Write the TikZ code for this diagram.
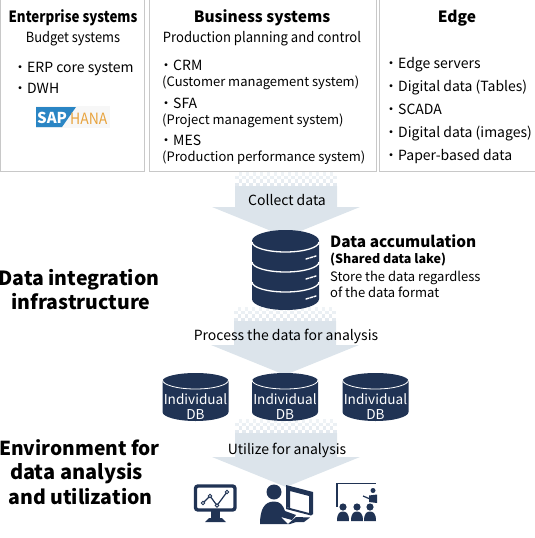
\documentclass[tikz,border=0pt]{standalone}
\usepackage{fontspec}
\usepackage{graphicx}
\setmainfont{Noto Sans CJK JP}
\definecolor{navy}{HTML}{203354}
\definecolor{arrowc}{HTML}{DCE4EB}
\definecolor{boxc}{HTML}{C8C8C8}
\definecolor{sapblue}{HTML}{2A85C4}
\definecolor{hanaor}{HTML}{E8A33D}
\tikzset{
 panel/.style={draw=boxc,line width=1pt,fill=white},
 txt/.style={inner sep=0pt,anchor=base west,font=\fontsize{14}{14}\selectfont,text=black},
 ctxt/.style={inner sep=0pt,anchor=base,font=\fontsize{14}{14}\selectfont,text=black},
 head/.style={inner sep=0pt,anchor=base,font=\fontsize{15.5}{15.5}\selectfont\bfseries,text=black},
 big/.style={inner sep=0pt,anchor=base,font=\fontsize{19.5}{19.5}\selectfont\bfseries,text=black},
 dbl/.style={inner sep=0pt,anchor=base,font=\fontsize{13.6}{13.6}\selectfont,text=white},
}
\newcommand{\flowarrow}[3]{% x-centre, top y, head y
 \pgfmathsetmacro{\tipy}{#3+30}
 \fill[arrowc] (#1-51,#2+14) -- (#1+51,#2+14) -- (#1+51,#3) -- (#1+74,#3) -- (#1,\tipy) -- (#1-74,#3) -- (#1-51,#3) -- cycle;
 \foreach \j in {0,...,3}{
  \pgfmathsetmacro{\shade}{45+\j*12}
  \fill[arrowc!\shade!white] (#1-51,#2+\j*3.5) rectangle ++(102,3.5);
  \foreach \i in {0,...,28}{
   \pgfmathtruncatemacro{\odd}{mod(\i+\j,2)}
   \ifnum\odd=0 \fill[white] (#1-51+\i*3.5,#2+\j*3.5) rectangle ++(3.5,3.5);\fi
  }
 }
}
\newcommand{\smalldb}[2]{% centre x, top y
 \fill[navy] (#1-33,#2+8) arc[start angle=180,end angle=360,x radius=33,y radius=8] -- (#1+33,#2+39) arc[start angle=0,end angle=180,x radius=33,y radius=9] -- cycle;
 \draw[white,line width=.8pt] (#1-33,#2+7) arc[start angle=180,end angle=0,x radius=33,y radius=9];
}
\begin{document}
\begin{tikzpicture}[x=1pt,y=-1pt]
\useasboundingbox (0,0) rectangle (535,538);
% panels
\draw[panel] (0.5,-2) rectangle (144.5,171);
\draw[panel] (149,-2) rectangle (376,171);
\draw[panel] (379,-2) rectangle (535,171);
\node[head] (h1) at (73,22) {\scalebox{.86}[1]{Enterprise systems}};
\node[ctxt] (s1) at (73,42) {\scalebox{.92}[1]{Budget systems}};
\node[txt] (e1) at (13,72) {・ERP core system};
\node[txt] (e2) at (13,93) {・DWH};
% SAP HANA logo
\fill[black!3] (36,106) rectangle (110,128);
\fill[sapblue] (36,107) -- (76,107) -- (62,127) -- (36,127) -- cycle;
\node[inner sep=0pt,anchor=base west,font=\fontsize{15}{15}\selectfont\bfseries,text=white] (sap) at (37,123) {SAP};
\node[inner sep=0pt,anchor=base west,font=\fontsize{15.5}{15.5}\selectfont,text=hanaor] (hana) at (70,124) {\scalebox{.9}[1]{HANA}};

\node[head] (h2) at (262,22) {Business systems};
\node[ctxt] (s2) at (262,42) {\scalebox{.934}[1]{Production planning and control}};
\node[txt] (c1) at (159,70) {・CRM};
\node[txt,font=\fontsize{13}{13}\selectfont] (c2) at (162,86) {(Customer management system)};
\node[txt] (c3) at (159,108) {・SFA};
\node[txt,font=\fontsize{13}{13}\selectfont] (c4) at (162,124) {(Project management system)};
\node[txt] (c5) at (159,145) {・MES};
\node[txt,font=\fontsize{13}{13}\selectfont] (c6) at (162,161) {(Production performance system)};

\node[head] (h3) at (457,22) {Edge};
\node[txt] (g1) at (384,68) {・Edge servers};
\node[txt] (g2) at (384,91) {・Digital data (Tables)};
\node[txt] (g3) at (384,114) {・SCADA};
\node[txt] (g4) at (384,137) {・Digital data (images)};
\node[txt] (g5) at (384,160) {・Paper-based data};

% arrows
\flowarrow{286}{172}{207}
\flowarrow{285}{307}{345}
\flowarrow{286}{419}{457}
\node[ctxt] (a1) at (287,205) {Collect data};
\node[ctxt] (a2) at (286,340) {Process the data for analysis};
\node[ctxt] (a3) at (287,454) {Utilize for analysis};

% large DB
\fill[navy] (252,241) arc[start angle=180,end angle=360,x radius=33.5,y radius=11] -- (319,299) arc[start angle=0,end angle=180,x radius=33.5,y radius=11] -- cycle;
\foreach \y in {242,262,282}{
 \draw[white,line width=1.3pt] (252,\y) arc[start angle=180,end angle=0,x radius=33.5,y radius=10];
}
\foreach \y in {259,279,299}{
 \draw[white,line width=1.4pt,dash pattern=on 3pt off 1.2pt,line cap=round] (306,\y) -- (316,\y-3);
}
\node[inner sep=0pt,anchor=base west,font=\fontsize{15.4}{15.4}\selectfont\bfseries] (d1) at (330,247) {Data accumulation};
\node[inner sep=0pt,anchor=base west,font=\fontsize{12.5}{12.5}\selectfont\bfseries] (d2) at (330,263) {(Shared data lake)};
\node[inner sep=0pt,anchor=base west,font=\fontsize{13}{13}\selectfont] (d3) at (330,281) {Store the data regardless};
\node[inner sep=0pt,anchor=base west,font=\fontsize{13}{13}\selectfont] (d4) at (330,297) {of the data format};

% side labels
\node[big] (b1) at (79,285) {Data integration};
\node[big] (b2) at (81,309) {infrastructure};
\node[big,font=\fontsize{19.2}{19.2}\selectfont\bfseries] (b3) at (79.5,455) {Environment for};
\node[big,font=\fontsize{20}{20}\selectfont\bfseries] (b4) at (76.5,479) {data analysis};
\node[big] (b5) at (80.5,504) {and utilization};

% small DBs
\smalldb{195.5}{373}
\smalldb{285}{373}
\smalldb{375.5}{373}
\foreach \x/\n in {195.5/p,285/q,375.5/r}{
 \node[dbl] (i\n) at (\x,404) {Individual};
 \node[dbl] (k\n) at (\x,419) {DB};
}

% monitor icon
\draw[navy,line width=3.4pt,rounded corners=2.5pt] (195.5,486) rectangle (235,510);
\fill[navy] (211,511) rectangle (220,519);
\fill[navy] (205,522) -- (209,518) -- (222,518) -- (226,522) -- cycle;
\draw[navy,line width=1.2pt] (203,503) -- (210,496) -- (217,505.5) -- (227,492);
\foreach \p in {(203,503),(210,496),(217,505.5),(227,492)}{\filldraw[fill=white,draw=navy,line width=.8pt] \p circle (1.7);}

% person + computer icon
\fill[navy] (274,492) circle (7.5);
\fill[navy] (260,524) .. controls (260,510) and (264,501.5) .. (274,501.5) .. controls (280,501.5) and (283,505) .. (285,511) -- (296,515) -- (292,520) -- (281,517) -- (288,524) -- cycle;
\fill[navy] (286,485) -- (313,492) -- (313,514) -- (309,514) -- (309,496) -- (290,491) -- (290,508) -- (286,507) -- cycle;
\fill[navy] (286,507) -- (313,514) -- (311,515.5) -- (286,509) -- cycle;
\fill[navy] (296,517) -- (310,517.5) -- (304,522) -- (296,522) -- (290,524) -- (288,524) -- cycle;

% presentation icon
\draw[navy,line width=1.1pt] (337,507) -- (337,483.5) -- (376,483.5);
\fill[navy] (373,490.5) circle (2.5);
\fill[navy] (369,502) -- (369,495.5) -- (377,494.5) -- (377,503) -- cycle;
\draw[navy,line width=1.2pt] (363,496) -- (370,499);
\foreach \x in {343,357,370}{
 \fill[navy] (\x,507) circle (3.6);
 \fill[navy] (\x-6,521) .. controls (\x-6,513) and (\x-3,511.5) .. (\x,511.5) .. controls (\x+3,511.5) and (\x+6,513) .. (\x+6,521) -- cycle;
}
\end{tikzpicture}
\end{document}
